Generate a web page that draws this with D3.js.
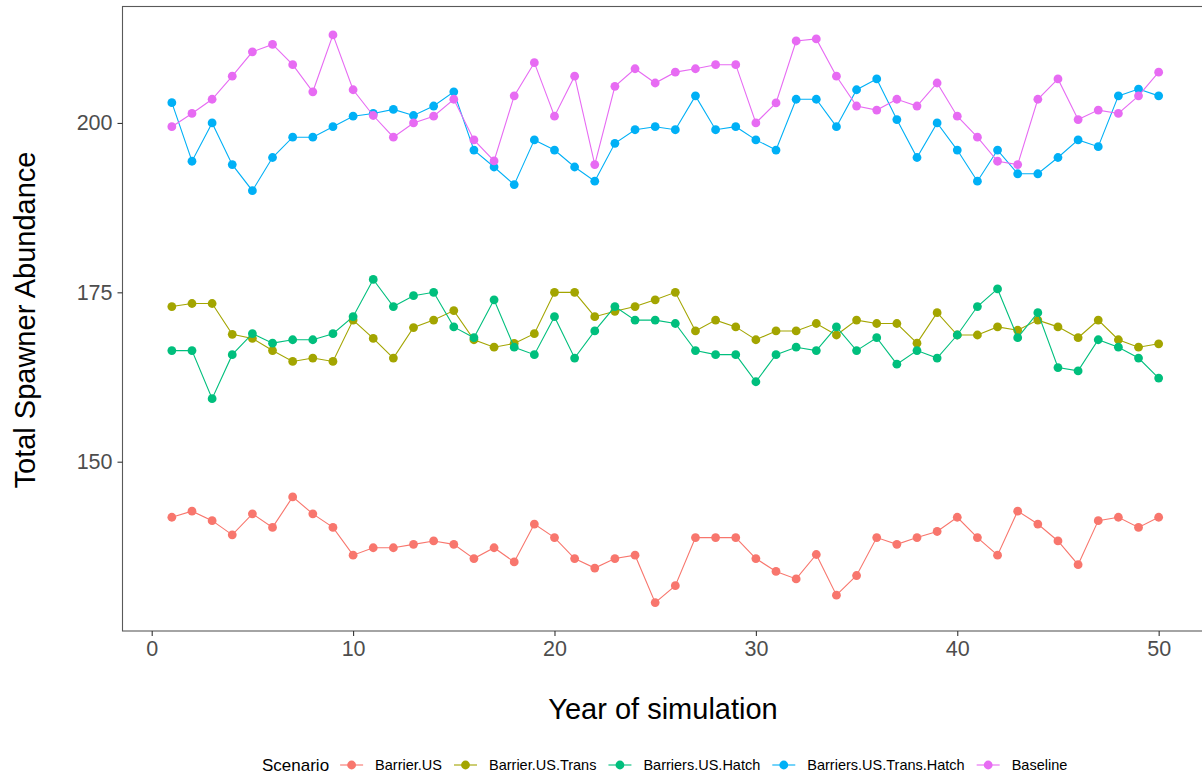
<!DOCTYPE html>
<html><head><meta charset="utf-8">
<script src="https://cdn.jsdelivr.net/npm/d3@7"></script>
<style>body{margin:0;background:#fff;}svg{display:block;font-family:"Liberation Sans",Arial,sans-serif;}</style>
</head><body><svg id="chart" width="1202" height="775"></svg>
<script>
const years = d3.range(1, 51);
const scenarios = ["Barrier.US","Barrier.US.Trans","Barriers.US.Hatch","Barriers.US.Trans.Hatch","Baseline"];
const colors = ["#F8766D","#A3A500","#00BF7D","#00B0F6","#E76BF3"];
const barrierUS = [141.8,142.7,141.3,139.2,142.3,140.3,144.8,142.3,140.3,136.2,137.3,137.3,137.8,138.3,137.8,
 135.7,137.3,135.2,140.8,138.8,135.7,134.3,135.7,136.2,129.2,131.7,138.8,138.8,138.8,135.7,133.8,132.7,136.3,
 130.3,133.2,138.8,137.8,138.8,139.7,141.8,138.8,136.2,142.7,140.8,138.3,134.8,141.3,141.8,140.3,141.8];
const barrierUSTrans = [172.9,173.35,173.35,168.8,168.2,166.4,164.8,165.3,164.8,170.9,168.2,165.3,169.8,170.9,172.3,
 168.0,166.9,167.45,168.9,175.0,175.0,171.4,172.2,172.9,173.9,175.0,169.3,170.9,169.9,168.0,169.3,169.3,170.4,
 168.7,170.9,170.4,170.4,167.5,172.0,168.7,168.7,169.9,169.4,170.9,169.9,168.3,170.9,168.0,166.9,167.4];
const barriersUSHatch = [166.4,166.4,159.3,165.8,168.9,167.5,168.0,168.0,168.9,171.4,176.9,172.9,174.5,175.0,169.9,
 168.3,173.9,166.9,165.8,171.4,165.3,169.3,172.9,170.9,170.9,170.4,166.4,165.8,165.8,161.8,165.8,166.9,166.4,
 169.9,166.4,168.3,164.4,166.4,165.3,168.7,172.9,175.5,168.3,172.0,163.9,163.4,168.0,166.9,165.3,162.35];
const barriersUSTransHatch = [203.0,194.35,200.0,193.85,190.0,194.9,197.9,197.9,199.45,201.0,201.4,202.0,201.1,202.5,204.6,
 196.0,193.5,190.9,197.5,196.0,193.5,191.4,197.0,199.0,199.45,199.0,204.0,199.0,199.45,197.5,196.0,203.5,203.5,
 199.45,204.9,206.5,200.5,194.9,200.0,196.0,191.4,196.0,192.5,192.5,194.9,197.5,196.5,204.0,205.0,204.0];
const baseline = [199.45,201.4,203.5,206.9,210.5,211.6,208.6,204.6,213.0,204.9,201.1,197.9,200.0,201.0,203.5,
 197.5,194.4,204.0,208.9,201.0,206.9,193.85,205.4,208.0,205.9,207.5,208.0,208.6,208.6,200.0,202.95,212.1,212.4,
 206.9,202.5,201.9,203.5,202.5,205.9,201.0,197.9,194.35,193.85,203.5,206.5,200.5,201.9,201.4,204.0,207.5];
const seriesValues = [barrierUS, barrierUSTrans, barriersUSHatch, barriersUSTransHatch, baseline];
const xTicks = [0,10,20,30,40,50];
const yTicks = [150,175,200];

const svg = d3.select("#chart");
const pLeft = 122.5, pTop = 6.5, pBottom = 631, pRight = 1208;

const allVals = seriesValues.flat();
const ymin = d3.min(allVals), ymax = d3.max(allVals), yr = ymax - ymin;
const x = d3.scaleLinear().domain([1 - 49*0.05, 50 + 49*0.05]).range([pLeft, pRight]);
const y = d3.scaleLinear().domain([ymin - yr*0.05, ymax + yr*0.05]).range([pBottom, pTop]);

svg.append("rect").attr("x", pLeft).attr("y", pTop).attr("width", pRight-pLeft).attr("height", pBottom-pTop)
  .attr("fill","none").attr("stroke","#595959").attr("stroke-width",1.1);

const xAxis = svg.append("g").attr("transform",`translate(0,${pBottom})`)
  .call(d3.axisBottom(x).tickValues(xTicks).tickSize(5).tickPadding(5));
const yAxis = svg.append("g").attr("transform",`translate(${pLeft},0)`)
  .call(d3.axisLeft(y).tickValues(yTicks).tickSize(5).tickPadding(5));
[xAxis,yAxis].forEach(g=>{
  g.select(".domain").remove();
  g.selectAll(".tick line").attr("stroke","#333").attr("stroke-width",1.1);
  g.selectAll(".tick text").attr("fill","#4D4D4D").attr("font-size",21.5).attr("font-family","Liberation Sans, Arial, sans-serif");
});

const line = d3.line().x((d,i)=>x(years[i])).y(d=>y(d));
seriesValues.forEach((vals,k)=>{
  const g = svg.append("g");
  g.append("path").datum(vals).attr("d", line).attr("fill","none").attr("stroke", colors[k]).attr("stroke-width",1.1);
  g.selectAll("circle").data(vals).join("circle")
    .attr("cx",(d,i)=>x(years[i])).attr("cy",d=>y(d)).attr("r",4.4).attr("fill",colors[k]);
});

svg.append("text").attr("x", 663).attr("y", 719).attr("text-anchor","middle")
  .attr("font-size",29).attr("fill","#000").text("Year of simulation");
svg.append("text").attr("transform","translate(35,320) rotate(-90)").attr("text-anchor","middle")
  .attr("font-size",29).attr("fill","#000").text("Total Spawner Abundance");

const lg = svg.append("g").attr("transform","translate(0,765)");
const title = lg.append("text").attr("x",262).attr("y",6).attr("font-size",17).attr("fill","#000").text("Scenario");
let cx = 262 + title.node().getComputedTextLength() + 11;
scenarios.forEach((s,k)=>{
  const key = lg.append("g").attr("transform",`translate(${cx},0)`);
  key.append("line").attr("x1",0).attr("x2",23).attr("y1",0).attr("y2",0).attr("stroke",colors[k]).attr("stroke-width",1.1);
  key.append("circle").attr("cx",11.5).attr("cy",0).attr("r",4.4).attr("fill",colors[k]);
  const t = lg.append("text").attr("x",cx+35).attr("y",5).attr("font-size",14.5).attr("fill","#000").text(s);
  cx += 35 + t.node().getComputedTextLength() + 12;
});
</script></body></html>
